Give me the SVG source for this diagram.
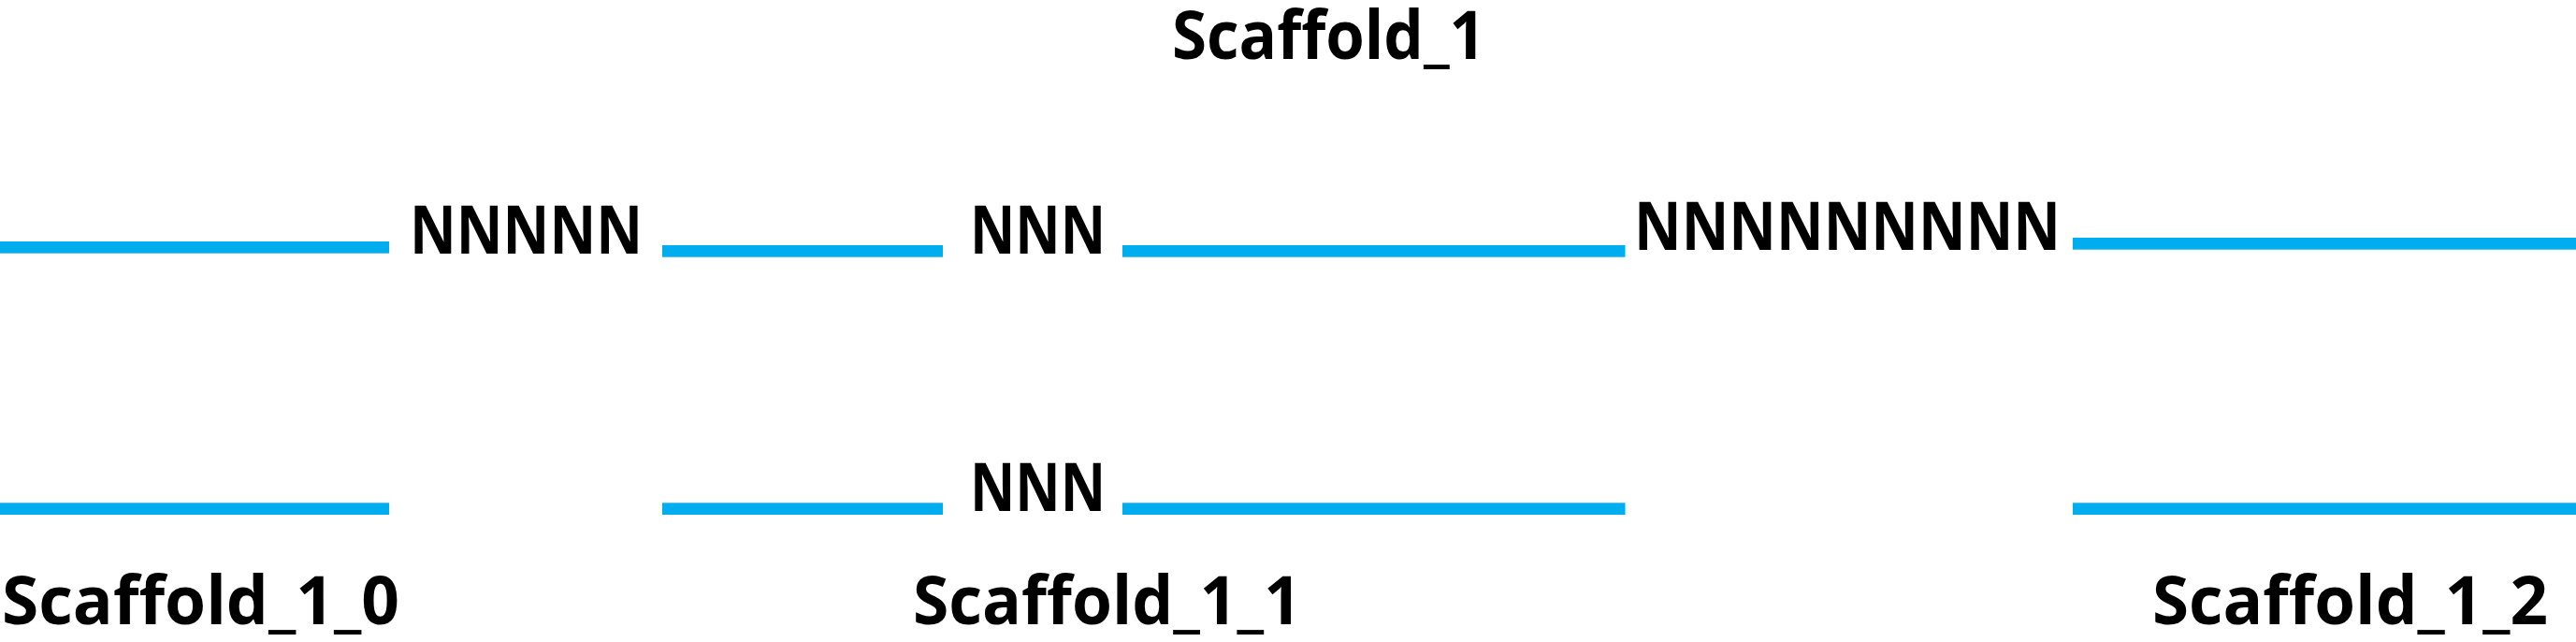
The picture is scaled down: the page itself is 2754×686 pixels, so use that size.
<svg xmlns="http://www.w3.org/2000/svg" width="2754" height="686" viewBox="0 0 2754 686">
<style>
.seg{fill:#00AEEF}
.t{font-family:"Open Sans","Liberation Sans",sans-serif;font-weight:bold;font-size:72px;fill:#000}
</style>
<rect width="2754" height="686" fill="#fff"/>
<g id="title"><text class="t" x="1253" y="63" textLength="335" lengthAdjust="spacingAndGlyphs">Scaffold_1</text></g>
<g id="scaffold_row">
<rect class="seg" x="0" y="258" width="416" height="12.7"/>
<text class="t" x="438" y="271" textLength="249" lengthAdjust="spacingAndGlyphs">NNNNN</text>
<rect class="seg" x="708" y="262" width="300" height="12.7"/>
<text class="t" x="1037" y="271" textLength="145" lengthAdjust="spacingAndGlyphs">NNN</text>
<rect class="seg" x="1200" y="262" width="537.5" height="12.7"/>
<text class="t" x="1747" y="266.7" textLength="456" lengthAdjust="spacingAndGlyphs">NNNNNNNNN</text>
<rect class="seg" x="2216" y="254" width="538" height="12.7"/>
</g>
<g id="Scaffold_1_0">
<rect class="seg" x="0" y="537.3" width="416" height="12.7"/>
<text class="t" x="2" y="667" textLength="425" lengthAdjust="spacingAndGlyphs">Scaffold_1_0</text>
</g>
<g id="Scaffold_1_1">
<rect class="seg" x="708" y="537.3" width="300" height="12.7"/>
<text class="t" x="1037" y="545.7" textLength="145" lengthAdjust="spacingAndGlyphs">NNN</text>
<rect class="seg" x="1200" y="537.3" width="537.5" height="12.7"/>
<text class="t" x="976" y="667" textLength="415" lengthAdjust="spacingAndGlyphs">Scaffold_1_1</text>
</g>
<g id="Scaffold_1_2">
<rect class="seg" x="2216" y="537.3" width="538" height="12.7"/>
<text class="t" x="2301" y="667" textLength="423" lengthAdjust="spacingAndGlyphs">Scaffold_1_2</text>
</g>
<g id="connectors"/>
</svg>
